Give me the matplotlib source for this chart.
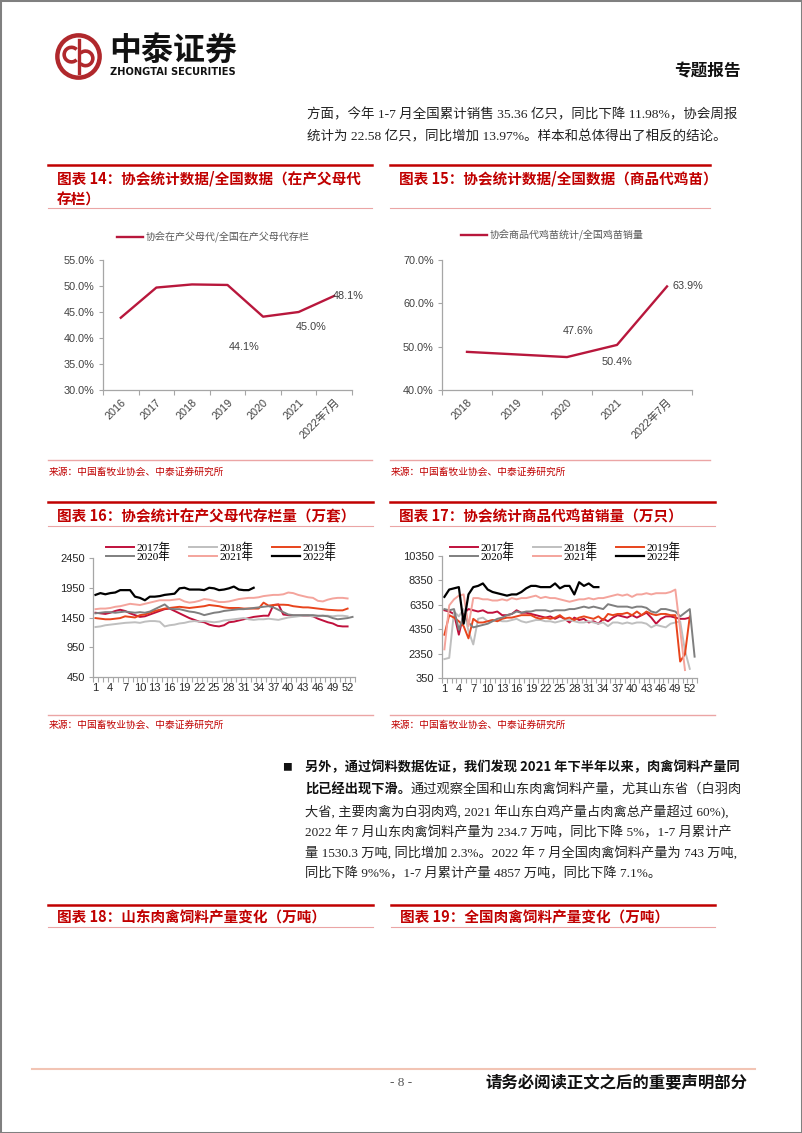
import numpy as np
import matplotlib
matplotlib.use("Agg")
import matplotlib.pyplot as plt
from matplotlib.lines import Line2D
from matplotlib.patches import Rectangle, Circle, Arc

plt.rcParams["font.family"] = ["Liberation Sans", "Noto Sans CJK SC", "DejaVu Sans"]

W, H = 802, 1133
RED = "#C00000"
PINK = "#EBA5A5"
CRIMSON = "#B8173C"
CJK = ["Noto Sans CJK SC", "DejaVu Sans"]
SERIF = ["Liberation Serif", "Noto Sans CJK SC", "DejaVu Sans"]

# ---------------- data ----------------
years14 = ["2016", "2017", "2018", "2019", "2020", "2021", "2022年7月"]
ratio14 = [43.9, 49.7, 50.3, 50.2, 44.1, 45.0, 48.1]

years15 = ["2018", "2019", "2020", "2021", "2022年7月"]
ratio15 = [48.8, 48.2, 47.6, 50.4, 63.9]

weeks = np.arange(1, 54)
week_ticks = list(range(1, 53, 3))
series_years = ["2017年", "2018年", "2019年", "2020年", "2021年", "2022年"]

# 图表16 在产父母代存栏量（万套）
stock_2017 = [1530, 1520, 1510, 1530, 1560, 1580, 1560, 1520, 1490, 1460, 1470, 1500, 1530,
              1560, 1590, 1600, 1560, 1520, 1480, 1440, 1410, 1380, 1370, 1330, 1310, 1300,
              1320, 1370, 1380, 1400, 1420, 1440, 1460, 1470, 1480, 1480, 1660, 1670, 1500,
              1490, 1480, 1480, 1480, 1480, 1470, 1430, 1400, 1370, 1350, 1310, 1300, 1300]
stock_2018 = [1290, 1300, 1320, 1330, 1340, 1350, 1360, 1365, 1370, 1360, 1380, 1390, 1390,
              1380, 1300, 1320, 1330, 1350, 1360, 1380, 1390, 1380, 1390, 1380, 1370, 1380,
              1400, 1410, 1420, 1430, 1440, 1420, 1410, 1420, 1420, 1430, 1420, 1410, 1430,
              1450, 1460, 1470, 1480, 1480, 1470, 1470, 1480, 1480, 1470, 1480, 1480, 1470]
stock_2019 = [1440, 1430, 1420, 1420, 1430, 1440, 1470, 1460, 1450, 1490, 1500, 1530, 1560,
              1580, 1600, 1610, 1620, 1630, 1620, 1610, 1620, 1630, 1640, 1660, 1650, 1640,
              1620, 1610, 1610, 1610, 1600, 1600, 1600, 1600, 1700, 1650, 1660, 1665, 1665,
              1660, 1640, 1630, 1620, 1620, 1610, 1600, 1590, 1580, 1575, 1570, 1570, 1600]
stock_2020 = [1520, 1530, 1540, 1540, 1530, 1540, 1550, 1540, 1530, 1540, 1530, 1550, 1590,
              1630, 1670, 1600, 1590, 1590, 1570, 1550, 1540, 1520, 1490, 1510, 1530, 1540,
              1560, 1570, 1580, 1590, 1590, 1600, 1610, 1620, 1630, 1640, 1620, 1580, 1540,
              1500, 1490, 1490, 1490, 1490, 1490, 1480, 1480, 1470, 1440, 1420, 1430, 1440, 1460]
stock_2021 = [1590, 1600, 1600, 1610, 1630, 1640, 1660, 1680, 1670, 1660, 1680, 1700, 1720,
              1740, 1740, 1740, 1750, 1760, 1720, 1700, 1710, 1730, 1760, 1750, 1730, 1710,
              1710, 1720, 1740, 1760, 1770, 1780, 1780, 1790, 1810, 1820, 1830, 1830, 1840,
              1870, 1860, 1830, 1810, 1790, 1780, 1730, 1720, 1750, 1770, 1780, 1780, 1770]
stock_2022 = [1830, 1860, 1840, 1860, 1870, 1910, 1910, 1910, 1800, 1780, 1740, 1800, 1800,
              1810, 1830, 1840, 1850, 1940, 1950, 1920, 1920, 1920, 1910, 1950, 1940, 1910,
              1920, 1940, 1970, 1920, 1910, 1910, 1950]

# 图表17 商品代鸡苗销量（万只）
chick_2017 = [5900, 5800, 5600, 3900, 5600, 6000, 5900, 5800, 5900, 5700, 5700, 5800, 5500,
              5500, 5600, 5900, 5700, 5700, 5600, 5500, 5400, 5300, 5400, 5200, 5400, 5200,
              4900, 5300, 5100, 5200, 4900, 5000, 4800, 5200, 5000, 5300, 5500, 5400, 5300,
              5500, 5300, 5500, 5700, 5300, 4800, 5200, 5400, 5400, 5300, 5200, 5200, 5300]
chick_2018 = [1900, 2000, 5800, 5400, 6000, 4200, 3100, 5200, 5300, 5000, 5100, 5100, 5000,
              5000, 5100, 5200, 5000, 4900, 5000, 5100, 5100, 5000, 5000, 4900, 5000, 5100,
              5100, 5000, 4900, 4900, 5000, 4900, 4800, 4900, 4600, 4900, 4900, 4800, 4900,
              4800, 4900, 4900, 4800, 4500, 4700, 4600, 4500, 4800, 4900, 5000, 2600, 1100]
chick_2019 = [3900, 5500, 5300, 5000, 4600, 3600, 5200, 4900, 4900, 5000, 5100, 5000, 5200,
              5300, 5300, 5400, 5500, 5500, 5500, 5300, 5200, 5300, 5200, 5300, 5500, 5200,
              5300, 5100, 5300, 5400, 5300, 5200, 5400, 5100, 5600, 5500, 5600, 5600, 5700,
              5500, 5800, 5500, 5800, 5600, 5500, 5600, 5600, 5500, 5500, 1700, 2300, 5400]
chick_2020 = [6000, 5900, 6000, 4300, 5500, 4900, 4500, 4600, 4700, 4800, 5000, 5200, 5300,
              5500, 5600, 5800, 5700, 5800, 5800, 5900, 5900, 5900, 5800, 5900, 5900, 5900,
              6000, 6000, 6100, 6200, 6100, 6200, 6100, 6000, 6400, 6300, 6200, 6200, 6200,
              6100, 6200, 6200, 6100, 5800, 5700, 6000, 6000, 5900, 5800, 5400, 5700, 6000, 2100]
chick_2021 = [2700, 6300, 6800, 7100, 7200, 4600, 6900, 6900, 6800, 6800, 6700, 6700, 6800,
              6700, 6900, 6800, 6900, 6900, 7000, 7100, 6900, 7000, 6900, 6900, 6800, 6700,
              6600, 6700, 6800, 6800, 6900, 6800, 6900, 6900, 7000, 7100, 7200, 7100, 7200,
              7000, 7200, 7200, 7300, 7200, 7300, 7300, 7300, 7400, 7600, 4300, 1000]
chick_2022 = [7000, 7600, 7700, 7800, 4800, 7200, 7800, 7900, 8100, 7600, 7400, 7300, 7200,
              7100, 7200, 7200, 7400, 7700, 7900, 7900, 7800, 7800, 7800, 8100, 7700, 7900,
              7900, 7200, 8200, 7900, 8100, 7800, 7800]

series_colors = ["#C0103C", "#BFBFBF", "#E8441C", "#7F7F7F", "#F4A49C", "#000000"]

# ---------------- helpers (pixel layout, origin top-left) ----------------
fig = plt.figure(figsize=(W / 100, H / 100), dpi=100)


def fx(x):
    return x / W


def fy(y):
    return 1 - y / H


def put(x, y, s, **kw):
    kw.setdefault("va", "center")
    return fig.text(fx(x), fy(y), s, **kw)


def hline(x0, x1, y, **kw):
    fig.add_artist(Line2D([fx(x0), fx(x1)], [fy(y), fy(y)], transform=fig.transFigure, **kw))


def add_ax(x0, y0, x1, y1):
    return fig.add_axes([fx(x0), fy(y1), (x1 - x0) / W, (y1 - y0) / H])


def chart_header(x0, x1, y_red, title_lines, y_title, y_thin):
    hline(x0, x1, y_red, color=RED, lw=1.8)
    for i, s in enumerate(title_lines):
        put(x0 + 9, y_title + i * 22, s, color=RED, fontsize=10.5, fontweight="bold", family=CJK)
    hline(x0, x1, y_thin, color=PINK, lw=0.8)


def chart_source(x0, x1, y_line, y_text):
    hline(x0, x1, y_line, color=PINK, lw=1.0)
    put(x0 + 1, y_text, "来源：中国畜牧业协会、中泰证券研究所", color=RED, fontsize=7, family=CJK)


def style_axes(ax, color="#A6A6A6"):
    for side in ("top", "right"):
        ax.spines[side].set_visible(False)
    for side in ("left", "bottom"):
        ax.spines[side].set_color(color)
        ax.spines[side].set_linewidth(0.9)
    ax.tick_params(axis="y", length=3, width=0.8, color=color, labelsize=7.8,
                   labelcolor="#404040", pad=3)
    ax.tick_params(axis="x", which="major", length=0, labelsize=7.8, labelcolor="#404040")
    ax.tick_params(axis="x", which="minor", length=3.5, width=0.8, color=color)
    ax.set_facecolor("none")


# ---------------- page frame ----------------
fig.add_artist(Rectangle((0, 0), 1, 1, transform=fig.transFigure, fill=False,
                         ec="#808080", lw=2.2))

# logo
lax = add_ax(55, 33, 102, 80)
lax.set_xlim(-1, 1)
lax.set_ylim(-1, 1)
lax.set_aspect("equal")
lax.axis("off")
LOGO = "#B0282C"
lax.add_patch(Circle((0, 0), 0.9, fill=False, ec=LOGO, lw=3.2))
lax.add_patch(Arc((-0.3, 0.08), 0.62, 0.62, theta1=45, theta2=315, ec=LOGO, lw=2.6))
lax.add_patch(Arc((0.3, -0.08), 0.62, 0.62, theta1=-135, theta2=135, ec=LOGO, lw=2.6))
lax.plot([0, 0], [-0.72, 0.72], color=LOGO, lw=2.4)

put(109, 51, "中泰证券", fontsize=23, fontweight="bold", family=CJK, color="#111111")
put(110, 72, "ZHONGTAI SECURITIES", fontsize=7.1, fontweight="bold",
    family=["DejaVu Sans"], color="#111111")
put(741, 71, "专题报告", ha="right", fontsize=12, fontweight="bold", family=CJK, color="#111111")

BODY = ["Liberation Serif", "Noto Sans CJK SC", "DejaVu Sans"]
BODY_FS = 9.5
put(307, 115, "方面，今年 1-7 月全国累计销售 35.36 亿只，同比下降 11.98%，协会周报",
    fontsize=9.7, family=BODY, color="#222222")
put(307, 137, "统计为 22.58 亿只，同比增加 13.97%。样本和总体得出了相反的结论。",
    fontsize=9.7, family=BODY, color="#222222")

# ---------------- 图表14 ----------------
chart_header(48, 372, 165, ["图表 14：协会统计数据/全国数据（在产父母代", "存栏）"], 178, 208)
ax = add_ax(103, 260, 352, 390)
x14 = np.arange(len(years14))
ax.plot(x14, ratio14, color=CRIMSON, lw=1.7, label="协会在产父母代/全国在产父母代存栏")
ax.set_xlim(-0.5, len(years14) - 0.5)
ax.set_ylim(30, 55)
ax.set_yticks(np.arange(30, 56, 5))
ax.set_yticklabels([f"{v:.1f}%" for v in np.arange(30, 56, 5)])
ax.set_xticks(x14)
ax.set_xticklabels(years14, rotation=45, ha="right", rotation_mode="anchor")
ax.set_xticks(np.arange(-0.5, len(years14), 1), minor=True)
style_axes(ax)
ax.tick_params(axis="x", which="major", pad=5)
offsets14 = {4: (-14, -22), 5: (9, -11), 6: (10, 0)}
for i, (dx, dy) in offsets14.items():
    ax.annotate(f"{ratio14[i]:.1f}%", xy=(i, ratio14[i]), xytext=(dx, dy),
                textcoords="offset points", ha="center", va="center",
                fontsize=7.8, color="#404040")
ax.legend(loc="center", bbox_to_anchor=(fx(213), fy(237)), bbox_transform=fig.transFigure,
          frameon=False, handlelength=2.6, handletextpad=0.2,
          prop={"family": CJK, "size": 7.2}, labelcolor="#595959")
chart_source(48, 372, 460, 472)

# ---------------- 图表15 ----------------
chart_header(390, 710, 165, ["图表 15：协会统计数据/全国数据（商品代鸡苗）"], 178, 208)
ax = add_ax(442, 260, 692, 390)
x15 = np.arange(len(years15))
ax.plot(x15, ratio15, color=CRIMSON, lw=1.7, label="协会商品代鸡苗统计/全国鸡苗销量")
ax.set_xlim(-0.5, len(years15) - 0.5)
ax.set_ylim(40, 70)
ax.set_yticks(np.arange(40, 71, 10))
ax.set_yticklabels([f"{v:.1f}%" for v in np.arange(40, 71, 10)])
ax.set_xticks(x15)
ax.set_xticklabels(years15, rotation=45, ha="right", rotation_mode="anchor")
ax.set_xticks(np.arange(-0.5, len(years15), 1), minor=True)
style_axes(ax)
ax.tick_params(axis="x", which="major", pad=5)
offsets15 = {2: (8, 19), 3: (0, -12), 4: (15, 0)}
for i, (dx, dy) in offsets15.items():
    ax.annotate(f"{ratio15[i]:.1f}%", xy=(i, ratio15[i]), xytext=(dx, dy),
                textcoords="offset points", ha="center", va="center",
                fontsize=7.8, color="#404040")
ax.legend(loc="center", bbox_to_anchor=(fx(552), fy(235)), bbox_transform=fig.transFigure,
          frameon=False, handlelength=2.6, handletextpad=0.2,
          prop={"family": CJK, "size": 7.2}, labelcolor="#595959")
chart_source(390, 710, 460, 472)


# ---------------- 图表16 / 图表17 ----------------
def weekly_chart(ax, series, ylim, yticks, legend_center):
    handles = []
    for vals, name, col in zip(series, series_years, series_colors):
        lw = 1.6 if col == "#000000" else 1.4
        h, = ax.plot(weeks[:len(vals)], vals, color=col, lw=lw, label=name)
        handles.append(h)
    ax.set_xlim(0.5, 53.5)
    ax.set_ylim(*ylim)
    ax.set_yticks(yticks)
    ax.set_xticks(week_ticks)
    ax.set_xticks(np.arange(0.5, 54, 1), minor=True)
    style_axes(ax, color="#A6A6A6")
    ax.tick_params(axis="y", labelcolor="#262626", labelsize=8)
    ax.tick_params(axis="x", which="major", labelcolor="#262626", labelsize=8, pad=4)
    order = [0, 3, 1, 4, 2, 5]
    ax.legend([handles[i] for i in order], [series_years[i] for i in order],
              loc="center", bbox_to_anchor=(fx(legend_center[0]), fy(legend_center[1])),
              bbox_transform=fig.transFigure, ncol=3, frameon=False,
              handlelength=2.5, handletextpad=0.2, columnspacing=1.6, labelspacing=-0.12,
              borderpad=0, prop={"family": SERIF, "size": 8.2})


chart_header(48, 373, 502, ["图表 16：协会统计在产父母代存栏量（万套）"], 516, 526)
ax = add_ax(93, 558, 355, 677)
weekly_chart(ax, [stock_2017, stock_2018, stock_2019, stock_2020, stock_2021, stock_2022],
             (450, 2450), np.arange(450, 2451, 500), (221, 552))
chart_source(48, 373, 715, 725)

chart_header(390, 715, 502, ["图表 17：协会统计商品代鸡苗销量（万只）"], 516, 526)
ax = add_ax(442, 556, 697, 678)
weekly_chart(ax, [chick_2017, chick_2018, chick_2019, chick_2020, chick_2021, chick_2022],
             (350, 10350), np.arange(350, 10351, 2000), (565, 552))
chart_source(390, 715, 715, 725)

# ---------------- bullet paragraph ----------------
put(282, 767, "■", fontsize=7, family=CJK, color="#111111")
px_per_em = BODY_FS * 100 / 72
put(305, 767, "另外，通过饲料数据佐证，我们发现 2021 年下半年以来，肉禽饲料产量同",
    fontsize=BODY_FS, fontweight="bold", family=CJK, color="#111111")
put(305, 790, "比已经出现下滑。", fontsize=BODY_FS, fontweight="bold", family=CJK, color="#111111")
put(305 + 8 * px_per_em, 790, "通过观察全国和山东肉禽饲料产量，尤其山东省（白羽肉",
    fontsize=BODY_FS, family=BODY, color="#222222")
para = [
    "大省, 主要肉禽为白羽肉鸡, 2021 年山东白鸡产量占肉禽总产量超过 60%),",
    "2022 年 7 月山东肉禽饲料产量为 234.7 万吨，同比下降 5%，1-7 月累计产",
    "量 1530.3 万吨, 同比增加 2.3%。2022 年 7 月全国肉禽饲料产量为 743 万吨,",
    "同比下降 9%%，1-7 月累计产量 4857 万吨，同比下降 7.1%。",
]
for k, s in enumerate(para):
    put(305, 812 + k * 20.6, s, fontsize=BODY_FS, family=BODY, color="#222222")

# ---------------- 图表18 / 图表19 headers ----------------
chart_header(48, 373, 905, ["图表 18：山东肉禽饲料产量变化（万吨）"], 917, 927)
chart_header(391, 715, 905, ["图表 19：全国肉禽饲料产量变化（万吨）"], 917, 927)

# ---------------- footer ----------------
hline(32, 755, 1069, color="#F2C4B4", lw=1.5)
put(401, 1083, "- 8 -", ha="center", fontsize=9.5, family=SERIF, color="#555555")
put(748, 1083, "请务必阅读正文之后的重要声明部分", ha="right", fontsize=11.8,
    fontweight="bold", family=CJK, color="#111111")

fig.savefig("out.png", dpi=100)
